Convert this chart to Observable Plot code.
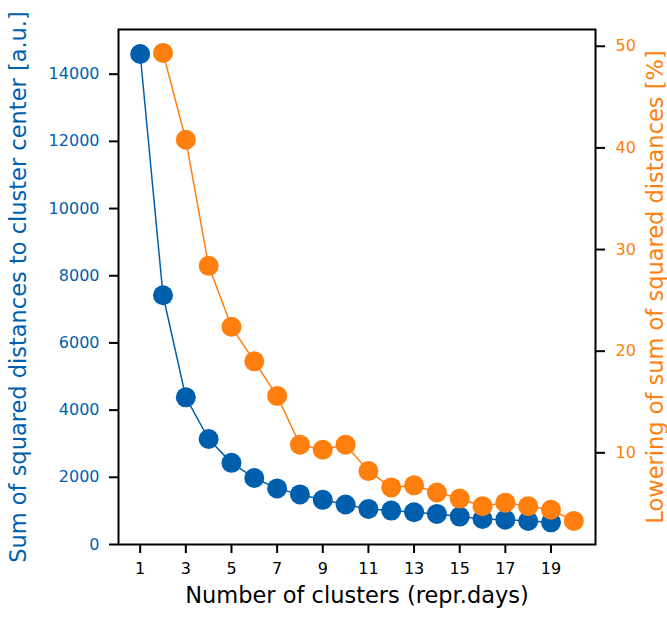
<!DOCTYPE html>
<html><head><meta charset="utf-8">
<script src="https://cdn.jsdelivr.net/npm/d3@7"></script>
<script src="https://cdn.jsdelivr.net/npm/@observablehq/plot@0.6"></script>
<style>
body{margin:0;background:#fff;}
#chart{position:relative;width:667px;height:617px;}
#chart svg{position:absolute;left:0;top:0;}
</style></head><body><div id="chart"></div>
<script>
// Data
const clustersSSD = [1,2,3,4,5,6,7,8,9,10,11,12,13,14,15,16,17,18,19];
const ssd = [14600,7420,4380,3140,2430,1980,1670,1490,1330,1190,1060,1010,960,910,830,760,740,700,660];
const clustersLowering = [2,3,4,5,6,7,8,9,10,11,12,13,14,15,16,17,18,19,20];
const lowering = [49.35,40.8,28.4,22.4,19.0,15.6,10.8,10.3,10.8,8.2,6.6,6.8,6.1,5.5,4.75,5.1,4.75,4.4,3.3];
const xTicks = [1,3,5,7,9,11,13,15,17,19];
const leftTicks = [0,2000,4000,6000,8000,10000,12000,14000];
const rightTicks = [10,20,30,40,50];
const xLabel = "Number of clusters (repr.days)";
const leftLabel = "Sum of squared distances to cluster center [a.u.]";
const rightLabel = "Lowering of sum of squared distances [%]";

const BLUE = "#005fad";
const ORANGE = "#ff7f0e";
const FONT = "DejaVu Sans";
const TICK_FONT = 16;

const ssdData = clustersSSD.map((k, i) => ({k, v: ssd[i]}));
const lowData = clustersLowering.map((k, i) => ({k, v: lowering[i]}));

const common = {
  width: 667, height: 617,
  marginLeft: 118, marginRight: 72, marginTop: 29, marginBottom: 73,
  style: {fontFamily: FONT, background: "transparent", overflow: "visible"}
};

const p1 = Plot.plot({
  ...common,
  x: {domain: [0.05, 20.95]},
  y: {domain: [0, 15330]},
  marks: [
    Plot.axisX({ticks: xTicks, tickSize: 9, strokeWidth: 2, stroke: "black", label: null, tickFormat: () => ""}),
    Plot.axisY({ticks: leftTicks, tickSize: 9, strokeWidth: 2, stroke: "black", label: null, tickFormat: () => ""}),
    Plot.text(xTicks, {x: d => d, text: d => String(d), frameAnchor: "bottom", lineAnchor: "top", dy: 18, fontSize: TICK_FONT, fill: "black"}),
    Plot.text(leftTicks, {y: d => d, text: d => String(d), frameAnchor: "left", textAnchor: "end", dx: -19, fontSize: TICK_FONT, fill: BLUE}),
    Plot.frame({stroke: "black", strokeWidth: 2}),
    Plot.line(ssdData, {x: "k", y: "v", stroke: BLUE, strokeWidth: 1.5}),
    Plot.dot(ssdData, {x: "k", y: "v", r: 10, fill: BLUE, stroke: "none"}),
    Plot.text([xLabel], {text: d => d, frameAnchor: "bottom", dy: 58, fontSize: 22.5, fill: "black"}),
    Plot.text([leftLabel], {text: d => d, frameAnchor: "left", textAnchor: "middle", rotate: -90, dx: -100, fontSize: 22.5, fill: BLUE})
  ]
});

const p2 = Plot.plot({
  ...common,
  x: {domain: [0.05, 20.95], axis: null},
  y: {domain: [0.98, 51.65]},
  marks: [
    Plot.axisY({anchor: "right", ticks: rightTicks, tickSize: 9, strokeWidth: 2, stroke: "black", label: null, tickFormat: () => ""}),
    Plot.text(rightTicks, {y: d => d, text: d => String(d), frameAnchor: "right", textAnchor: "start", dx: 20, fontSize: TICK_FONT, fill: ORANGE}),
    Plot.line(lowData, {x: "k", y: "v", stroke: ORANGE, strokeWidth: 1.5}),
    Plot.dot(lowData, {x: "k", y: "v", r: 10, fill: ORANGE, stroke: "none"}),
    Plot.text([rightLabel], {text: d => d, frameAnchor: "right", textAnchor: "middle", rotate: -90, dx: 60, fontSize: 22.5, fill: ORANGE})
  ]
});

const chart = document.getElementById("chart");
chart.appendChild(p1);
chart.appendChild(p2);
</script>
</body></html>
